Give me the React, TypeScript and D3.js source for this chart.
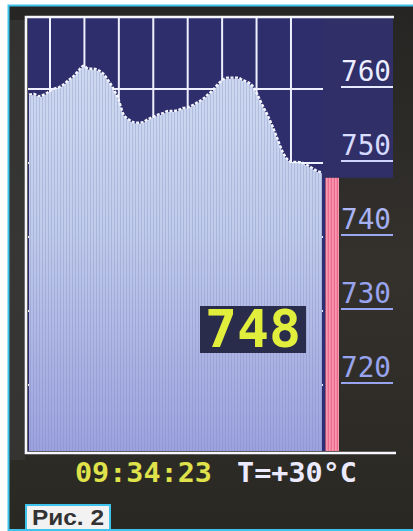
import React from "react";
import * as d3 from "d3";

// Pressure log (mmHg), oldest first, one reading per column group
const pressure = [
  759.1, 759.2, 758.9, 759.1, 759.5, 759.9, 760.1, 760.5, 761.1, 761.6,
  762.4, 763.0, 762.6, 762.6, 762.4, 761.9, 761.0, 759.9, 758.5, 756.5,
  755.8, 755.4, 755.3, 755.4, 755.8, 756.1, 756.4, 756.6, 756.9, 756.9,
  757.0, 757.3, 757.4, 757.7, 758.1, 758.5, 759.1, 759.7, 760.5, 761.1,
  761.4, 761.4, 761.4, 761.1, 760.8, 760.3, 759.1, 757.7, 756.4, 754.9,
  753.2, 751.5, 750.4, 750.0, 750.0, 749.9, 749.6, 749.2, 748.8, 748.6,
];

const currentPressure = 748;
const pressureTicks = [760, 750, 740, 730, 720];
const hourLines = [1, 2, 3, 4, 5, 6, 7, 8];
const clockText = "09:34:23";
const temperatureText = "T=+30°C";
const captionText = "Рис. 2";

const W = 413;
const H = 531;

// Screen layout
const frameLeft = 26;
const frameTop = 17;
const frameBottom = 453;
const frameRight = 394;
const plotLeft = 28;
const plotRight = 323;
const plotBottom = 451;
const nowX = 325.4;
const barRight = 339;
const labelX = 341;
const labelRight = 393;

const y = d3.scaleLinear().domain([720, 760]).range([385, 89]);
const x = d3.scaleLinear().domain([0, pressure.length - 1]).range([29, 322]);
const hoursAgo = d3.scaleLinear().domain([0, 8]).range([nowX, 50]);

const mono = "'DejaVu Sans Mono', 'Liberation Mono', monospace";

export default function App() {
  const area = d3
    .area<number>()
    .x((_, i) => x(i))
    .y0(plotBottom)
    .y1((d) => y(d))
    .curve(d3.curveMonotoneX);
  const line = d3
    .line<number>()
    .x((_, i) => x(i))
    .y((d) => y(d) - 1)
    .curve(d3.curveMonotoneX);

  const areaPath = area(pressure) ?? "";
  const topLine = line(pressure) ?? "";
  const yNow = y(currentPressure);

  return (
    <svg
      width={W}
      height={H}
      viewBox={`0 0 ${W} ${H}`}
      style={{ position: "absolute", left: 0, top: 0, display: "block" }}
    >
      <defs>
        <linearGradient id="fillGrad" gradientUnits="userSpaceOnUse" x1="0" y1="60" x2="0" y2={plotBottom}>
          <stop offset="0" stopColor="#cfdaf0" />
          <stop offset="0.45" stopColor="#c0caea" />
          <stop offset="1" stopColor="#9da2de" />
        </linearGradient>
        <pattern id="stripes" patternUnits="userSpaceOnUse" width="3" height="8">
          <rect x="0" y="0" width="1" height="8" fill="#6f7cb8" opacity="0.28" />
        </pattern>
        <pattern id="redStripes" patternUnits="userSpaceOnUse" width="3" height="8" x={nowX}>
          <rect x="0" y="0" width="3" height="8" fill="#ec6a8c" />
          <rect x="1" y="0" width="1" height="8" fill="#ffb6c8" />
        </pattern>
        <linearGradient id="labelGrad" gradientUnits="userSpaceOnUse" x1="0" y1="60" x2="0" y2="240">
          <stop offset="0" stopColor="#eef0ff" />
          <stop offset="0.5" stopColor="#d6dbff" />
          <stop offset="1" stopColor="#98a4f0" />
        </linearGradient>
        <linearGradient id="bezel" x1="0" y1="0" x2="0" y2="1">
          <stop offset="0" stopColor="#262523" />
          <stop offset="0.5" stopColor="#34312d" />
          <stop offset="1" stopColor="#2a2822" />
        </linearGradient>
      </defs>

      {/* page and display bezel */}
      <rect x={0} y={0} width={W} height={H} fill="#ffffff" />
      <rect x={9} y={5} width={W - 9} height={525} fill="url(#bezel)" />
      <rect x={10} y={20} width={15} height={440} fill="#3a3a3a" opacity={0.6} />
      <path d={`M${W},5.5 H8.5 V530 H${W}`} fill="none" stroke="#3ec3ec" strokeWidth={2} />

      {/* empty chart background */}
      <rect x={plotLeft} y={frameTop} width={plotRight - plotLeft} height={plotBottom - frameTop} fill="#2e2e6c" />
      <rect x={plotRight} y={frameTop} width={labelRight - plotRight} height={yNow - frameTop} fill="#302f68" />

      {/* grid */}
      {hourLines.map((h) => (
        <line
          key={`h${h}`}
          x1={hoursAgo(h)}
          x2={hoursAgo(h)}
          y1={frameTop}
          y2={plotBottom}
          stroke="#eef0ff"
          strokeWidth={2}
        />
      ))}
      {pressureTicks.map((p) => (
        <line
          key={`g${p}`}
          x1={plotLeft}
          x2={plotRight}
          y1={y(p)}
          y2={y(p)}
          stroke="#eef0ff"
          strokeWidth={2}
        />
      ))}

      {/* pressure history */}
      <path d={areaPath} fill="url(#fillGrad)" />
      <path d={areaPath} fill="url(#stripes)" />
      <path d={topLine} fill="none" stroke="#f4f6ff" strokeWidth={2.4} strokeDasharray="3 1.5" />

      {/* current reading column */}
      <rect x={plotRight} y={yNow} width={nowX - plotRight} height={plotBottom - yNow} fill="#2b2e78" />
      <rect x={nowX} y={yNow} width={barRight - nowX} height={plotBottom - yNow} fill="url(#redStripes)" />

      {/* pressure scale */}
      {pressureTicks.map((p) => (
        <g key={`l${p}`}>
          <text
            x={labelX}
            y={y(p) - 8}
            fontFamily={mono}
            fontSize={28}
            fill="url(#labelGrad)"
            textLength={labelRight - labelX - 2}
            lengthAdjust="spacingAndGlyphs"
          >
            {p}
          </text>
          <line
            x1={labelX}
            x2={labelRight}
            y1={y(p) - 2}
            y2={y(p) - 2}
            stroke="url(#labelGrad)"
            strokeWidth={2}
          />
        </g>
      ))}

      {/* frame */}
      <path
        d={`M${frameRight},${frameTop} H${frameLeft} V${frameBottom} H${frameRight + 2}`}
        fill="none"
        stroke="#f6f6ff"
        strokeWidth={2.6}
      />

      {/* current value readout */}
      <rect x={200} y={306} width={106} height={47} fill="#2a2c4c" />
      <text
        x={253}
        y={347}
        textAnchor="middle"
        fontFamily={mono}
        fontWeight="bold"
        fontSize={52}
        fill="#e2ee3c"
        textLength={96}
        lengthAdjust="spacingAndGlyphs"
      >
        {currentPressure}
      </text>

      {/* status line */}
      <text
        x={75}
        y={482}
        fontFamily={mono}
        fontWeight="bold"
        fontSize={27}
        fill="#dfe24a"
        textLength={137}
        lengthAdjust="spacingAndGlyphs"
      >
        {clockText}
      </text>
      <text
        x={237}
        y={482}
        fontFamily={mono}
        fontWeight="bold"
        fontSize={27}
        fill="#eceaff"
        textLength={120}
        lengthAdjust="spacingAndGlyphs"
      >
        {temperatureText}
      </text>

      {/* caption */}
      <rect x={26} y={505} width={84} height={25} fill="#f2f2f2" stroke="#3ec3ec" strokeWidth={2} />
      <text
        x={32}
        y={525}
        fontFamily="'Liberation Sans', Arial, sans-serif"
        fontWeight="bold"
        fontSize={22}
        fill="#333333"
        textLength={72}
        lengthAdjust="spacingAndGlyphs"
      >
        {captionText}
      </text>
    </svg>
  );
}
